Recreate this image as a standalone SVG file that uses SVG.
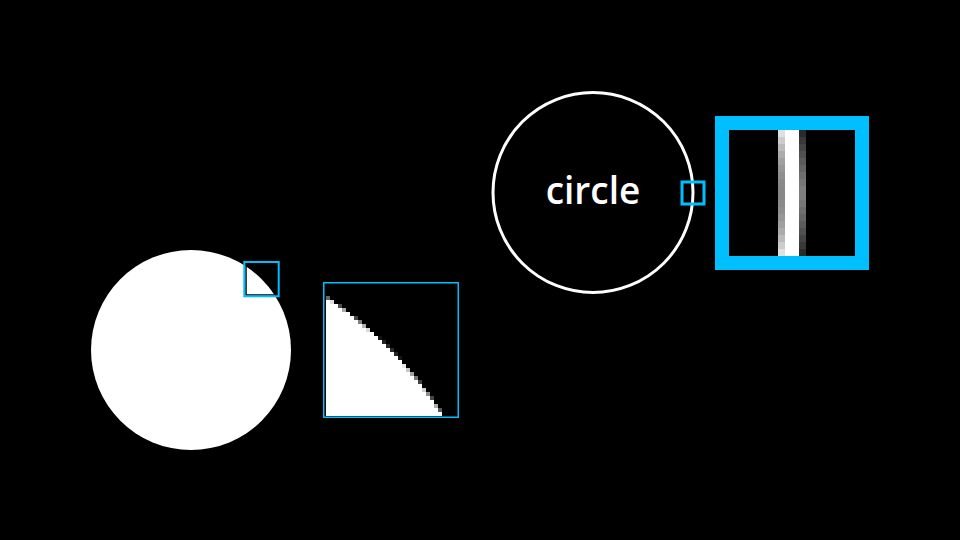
<svg xmlns="http://www.w3.org/2000/svg" width="960" height="540" viewBox="0 0 960 540">
  <style>
    .box { fill: none; stroke: #00bfff; }
    .label { font-family: "Open Sans", "Liberation Sans", sans-serif; font-size: 37px; font-weight: 600; fill: #ffffff; text-anchor: middle; }
  </style>
  <rect x="0" y="0" width="960" height="540" fill="#000000"/>

  <!-- Left: filled circle with zoom box -->
  <g id="filled-circle">
    <circle cx="191" cy="350" r="100" fill="#ffffff"/>
    <rect x="246" y="263" width="31" height="32" fill="none" stroke="#000000" stroke-width="1.5"/>
    <rect class="box" x="244.3" y="262" width="34.4" height="34.3" stroke-width="2"/>
  </g>

  <g id="filled-magnified">
    <path fill="#ffffff" d="M326,300 H330 V304 H338 V308 H342 V312 H350 V316 H354 V320 H358 V324 H362 V328 H366 V332 H374 V336 H378 V340 H382 V344 H386 V348 H390 V352 H394 V356 H398 V360 H402 V368 H406 V372 H410 V376 H414 V380 H418 V384 H422 V392 H426 V396 H430 V400 H434 V408 H438 V412 H442 V416 H326 Z"/>
    <g fill="#ffffff">
      <rect x="326" y="296" width="4" height="4" fill-opacity="0.40"/>
      <rect x="330" y="300" width="4" height="4" fill-opacity="0.88"/>
      <rect x="338" y="304" width="4" height="4" fill-opacity="0.30"/>
      <rect x="342" y="308" width="4" height="4" fill-opacity="0.66"/>
      <rect x="354" y="316" width="4" height="4" fill-opacity="0.27"/>
      <rect x="358" y="320" width="4" height="4" fill-opacity="0.50"/>
      <rect x="362" y="324" width="4" height="4" fill-opacity="0.70"/>
      <rect x="366" y="328" width="4" height="4" fill-opacity="0.86"/>
      <rect x="378" y="336" width="4" height="4" fill-opacity="0.08"/>
      <rect x="382" y="340" width="4" height="4" fill-opacity="0.14"/>
      <rect x="386" y="344" width="4" height="4" fill-opacity="0.17"/>
      <rect x="390" y="348" width="4" height="4" fill-opacity="0.17"/>
      <rect x="394" y="352" width="4" height="4" fill-opacity="0.14"/>
      <rect x="398" y="356" width="4" height="4" fill-opacity="0.09"/>
      <rect x="402" y="364" width="4" height="4" fill-opacity="0.91"/>
      <rect x="406" y="368" width="4" height="4" fill-opacity="0.78"/>
      <rect x="410" y="372" width="4" height="4" fill-opacity="0.63"/>
      <rect x="414" y="376" width="4" height="4" fill-opacity="0.46"/>
      <rect x="418" y="380" width="4" height="4" fill-opacity="0.26"/>
      <rect x="422" y="388" width="4" height="4" fill-opacity="0.81"/>
      <rect x="426" y="392" width="4" height="4" fill-opacity="0.56"/>
      <rect x="430" y="396" width="4" height="4" fill-opacity="0.28"/>
      <rect x="434" y="404" width="4" height="4" fill-opacity="0.68"/>
      <rect x="438" y="408" width="4" height="4" fill-opacity="0.35"/>
    </g>
    <rect class="box" x="323.75" y="282.75" width="134.5" height="134.5" stroke-width="1.5"/>
  </g>

  <!-- Right: outlined circle with label and zoom box -->
  <g id="outline-circle">
    <circle cx="593" cy="192.5" r="100" fill="none" stroke="#ffffff" stroke-width="3"/>
    <text class="label" x="593" y="204">circle</text>
    <rect class="box" x="682" y="182" width="22" height="22" stroke-width="3"/>
  </g>

  <g id="outline-magnified">
    <rect x="785" y="130" width="14" height="126" fill="#ffffff"/>
    <g>
      <rect x="778" y="130" width="7" height="7" fill="#e0e0e0"/>
      <rect x="778" y="137" width="7" height="7" fill="#cccccc"/>
      <rect x="778" y="144" width="7" height="7" fill="#bbbbbb"/>
      <rect x="778" y="151" width="7" height="7" fill="#ababab"/>
      <rect x="778" y="158" width="7" height="7" fill="#a0a0a0"/>
      <rect x="778" y="165" width="7" height="7" fill="#969696"/>
      <rect x="778" y="172" width="7" height="7" fill="#8f8f8f"/>
      <rect x="778" y="179" width="7" height="7" fill="#8a8a8a"/>
      <rect x="778" y="186" width="7" height="7" fill="#878787"/>
      <rect x="778" y="193" width="7" height="7" fill="#878787"/>
      <rect x="778" y="200" width="7" height="7" fill="#8a8a8a"/>
      <rect x="778" y="207" width="7" height="7" fill="#8f8f8f"/>
      <rect x="778" y="214" width="7" height="7" fill="#969696"/>
      <rect x="778" y="221" width="7" height="7" fill="#a0a0a0"/>
      <rect x="778" y="228" width="7" height="7" fill="#ababab"/>
      <rect x="778" y="235" width="7" height="7" fill="#bbbbbb"/>
      <rect x="778" y="242" width="7" height="7" fill="#cccccc"/>
      <rect x="778" y="249" width="7" height="7" fill="#e0e0e0"/>

      <rect x="799" y="130" width="7" height="7" fill="#2a2a2a"/>
      <rect x="799" y="137" width="7" height="7" fill="#383838"/>
      <rect x="799" y="144" width="7" height="7" fill="#444444"/>
      <rect x="799" y="151" width="7" height="7" fill="#505050"/>
      <rect x="799" y="158" width="7" height="7" fill="#5b5b5b"/>
      <rect x="799" y="165" width="7" height="7" fill="#656565"/>
      <rect x="799" y="172" width="7" height="7" fill="#6e6e6e"/>
      <rect x="799" y="179" width="7" height="7" fill="#777777"/>
      <rect x="799" y="186" width="7" height="7" fill="#7e7e7e"/>
      <rect x="799" y="193" width="7" height="7" fill="#7e7e7e"/>
      <rect x="799" y="200" width="7" height="7" fill="#777777"/>
      <rect x="799" y="207" width="7" height="7" fill="#6e6e6e"/>
      <rect x="799" y="214" width="7" height="7" fill="#656565"/>
      <rect x="799" y="221" width="7" height="7" fill="#5b5b5b"/>
      <rect x="799" y="228" width="7" height="7" fill="#505050"/>
      <rect x="799" y="235" width="7" height="7" fill="#444444"/>
      <rect x="799" y="242" width="7" height="7" fill="#383838"/>
      <rect x="799" y="249" width="7" height="7" fill="#2a2a2a"/>
    </g>
    <rect class="box" x="722" y="123" width="140" height="140" stroke-width="14"/>
  </g>
</svg>
